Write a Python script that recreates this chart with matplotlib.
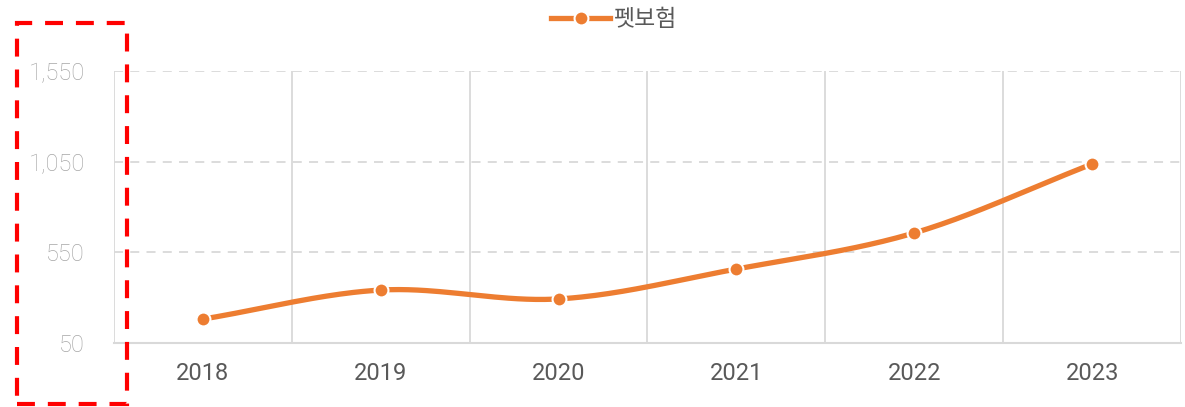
import numpy as np
import matplotlib
matplotlib.use("Agg")
import matplotlib.pyplot as plt
from matplotlib.patches import Rectangle
from matplotlib.lines import Line2D

years = ["2018", "2019", "2020", "2021", "2022", "2023"]
values = [182, 342, 293, 458, 657, 1037]
series_name = "펫보험"
yticks = [50, 550, 1050, 1550]

ORANGE = "#ED7D31"

def catmull(xs, ys, n=40):
    xs = np.asarray(xs, float); ys = np.asarray(ys, float)
    px = np.concatenate([[2*xs[0]-xs[1]], xs, [2*xs[-1]-xs[-2]]])
    py = np.concatenate([[2*ys[0]-ys[1]], ys, [2*ys[-1]-ys[-2]]])
    ox, oy = [], []
    for i in range(1, len(px)-2):
        t = np.linspace(0, 1, n)
        for arr, out in ((px, ox), (py, oy)):
            p0, p1, p2, p3 = arr[i-1], arr[i], arr[i+1], arr[i+2]
            out.extend(0.5*((2*p1) + (-p0+p2)*t + (2*p0-5*p1+4*p2-p3)*t**2 + (-p0+3*p1-3*p2+p3)*t**3))
    return np.array(ox), np.array(oy)

fig = plt.figure(figsize=(11.85, 4.07), dpi=100)
ax = fig.add_axes([114/1185, 1-343/407, (1181-114)/1185, (343-71)/407])

x = np.arange(len(years))
sx, sy = catmull(x, values)
ax.plot(sx, sy, color=ORANGE, lw=3.8, solid_capstyle="round", zorder=3)
ax.plot(x, values, ls="none", marker="o", ms=10, mfc=ORANGE, mec="white", mew=1.5, zorder=4)

ax.set_xlim(-0.5, len(years)-0.5)
ax.set_ylim(50, 1550)
ax.set_yticks(yticks)
ax.set_yticklabels([f"{v:,}" for v in yticks])
ax.set_xticks(x)
ax.set_xticklabels(years)

for b in np.arange(-0.5, len(years), 1.0):
    ax.axvline(b, color="#d9d9d9", lw=1.3, zorder=1)
for v in yticks[1:]:
    ax.axhline(v, color="#d9d9d9", lw=1.3, ls=(0, (5, 4)), zorder=1)

for s in ax.spines.values():
    s.set_visible(False)
ax.spines["bottom"].set_visible(True)
ax.spines["bottom"].set_color("#d9d9d9")
ax.spines["bottom"].set_linewidth(1.5)
ax.tick_params(axis="both", length=0)
ax.tick_params(axis="y", pad=21, labelcolor="#a6a6a6", labelsize=17)
ax.tick_params(axis="x", pad=14, labelcolor="#595959", labelsize=17)
for lab in ax.get_yticklabels():
    lab.set_fontfamily("Roboto")
    lab.set_fontweight("light")
for lab in ax.get_xticklabels():
    lab.set_fontfamily("Roboto")
    lab.set_fontweight("normal")

h = Line2D([], [], color=ORANGE, lw=3.8, marker="o", ms=10, mfc=ORANGE, mec="white", mew=1.5)
leg = fig.legend([h], [series_name], loc="center", bbox_to_anchor=(614/1185, 1-20/407),
                 frameon=False, handlelength=2.6, handletextpad=0.15,
                 prop={"family": ["Noto Sans CJK KR", "DejaVu Sans"], "size": 16.5})
for t in leg.get_texts():
    t.set_color("#595959")

rect = Rectangle((17/1185, 1-404/407), (127-17)/1185, (404-23)/407, transform=fig.transFigure,
                 fill=False, edgecolor="#ff0000", lw=3.0, ls=(0, (4.3, 3.1)))
fig.patches.append(rect)

fig.savefig("out.png", dpi=100)
